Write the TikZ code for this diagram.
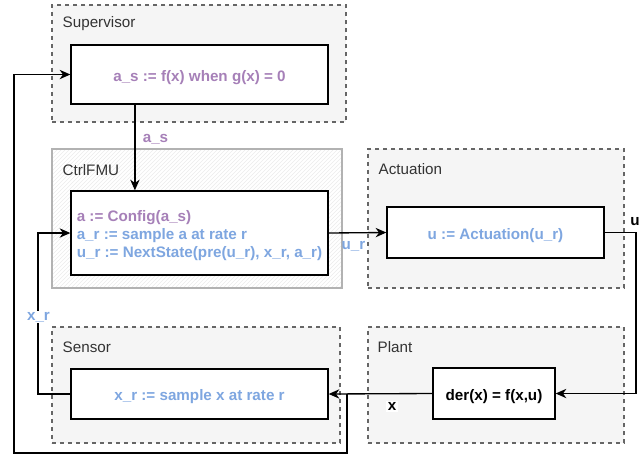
\documentclass[tikz,border=0pt]{standalone}
\usepackage{fontspec}
\setmainfont{Liberation Sans}
\usetikzlibrary{arrows.meta}
\usetikzlibrary{patterns}
\usetikzlibrary{calc}

\definecolor{asPurple}{HTML}{A680B8}
\definecolor{arBlue}{HTML}{7EA6E0}
\definecolor{groupFill}{HTML}{F5F5F5}
\definecolor{groupLine}{HTML}{666666}
\definecolor{titleText}{HTML}{333333}

\newcommand{\lineup}{\rule{0pt}{12.8pt}}

\begin{document}
\begin{tikzpicture}[x=0.75pt, y=-0.75pt,
  every node/.style={font=\fontsize{11.4}{13.5}\selectfont},
  group/.style={draw=groupLine, dashed, fill=groupFill, rectangle, line width=0.8pt, inner sep=0},
  title/.style={text=titleText, anchor=west, inner sep=0},
  block/.style={draw, rectangle, fill=white, line width=1pt, font=\fontsize{11.4}{13.5}\selectfont\bfseries},
  lbl/.style={inner sep=1pt, font=\fontsize{11.4}{13.5}\selectfont\bfseries},
  conn/.style={line width=1pt, -{Stealth[length=8pt, width=7pt, inset=2.5pt]}}]
\useasboundingbox (0,0) rectangle (644,455);

% groups
\node[group, minimum width=220.5pt, minimum height=87.75pt] (Supervisor) at (199,63.5) {};
\node[draw=black!30, line width=1pt, pattern=north east lines, pattern color=black!8, minimum width=217.5pt, minimum height=104.25pt] (CtrlFMU) at (197,218.5) {};
\node[group, minimum width=192pt, minimum height=104.25pt] (Actuation) at (496,218.5) {};
\node[group, minimum width=216pt, minimum height=87pt] (Sensor) at (196,385) {};
\node[group, minimum width=192pt, minimum height=87pt] (Plant) at (496,385) {};

\node[title] (SupTitle) at ([shift={(11,19.5)}]Supervisor.north west) {Supervisor};
\node[title] (CtrlTitle) at ([shift={(11,21.5)}]CtrlFMU.north west) {CtrlFMU};
\node[title] (ActTitle) at ([shift={(11,20.5)}]Actuation.north west) {Actuation};
\node[title] (SensorTitle) at ([shift={(11,20.5)}]Sensor.north west) {Sensor};
\node[title] (PlantTitle) at ([shift={(10,20.5)}]Plant.north west) {Plant};

% blocks
\node[block, minimum width=192.75pt, minimum height=44.25pt, text=asPurple] (SupBox) at (199.5,74.5) {\lineup a\_s := f(x) when g(x) = 0};
\node[block, minimum width=192.75pt, minimum height=63pt, align=left] (CtrlBox) at (199.5,233) {\lineup\textcolor{asPurple}{a := Config(a\_s)}\\ \textcolor{arBlue}{a\_r := sample a at rate r}\\ \textcolor{arBlue}{u\_r := NextState(pre(u\_r), x\_r, a\_r)}};
\node[block, minimum width=162.75pt, minimum height=38.25pt, text=arBlue] (ActBox) at (495.5,232.5) {\lineup u := Actuation(u\_r)};
\node[block, minimum width=91.5pt, minimum height=38.25pt] (PlantBox) at (494,393.5) {\lineup der(x) = f(x,u)};
\node[block, minimum width=192.75pt, minimum height=37.5pt, text=arBlue] (SensorBox) at (199.5,394) {\lineup x\_r := sample x at rate r};

% connectors
\coordinate (AsOut) at ($(SupBox.south west)!0.25!(SupBox.south east)$);
\draw[conn] (AsOut) -- (AsOut |- CtrlBox.north);
\draw[conn] (CtrlBox.east) -- (ActBox.west);
\coordinate (UTurn) at (636,232.5);
\draw[conn] (ActBox.east) -- (UTurn) |- (PlantBox.east);
\draw[conn] (PlantBox.west) -- (SensorBox.east);
\coordinate (XSplit) at (347,0 |- SensorBox.east);
\coordinate (XBottom) at (347,453);
\coordinate (XLeft) at (14,453);
\draw[conn] (XSplit) -- (XBottom) -- (XLeft) |- (SupBox.west);
\coordinate (XrTurn) at (38,0 |- SensorBox.west);
\draw[conn] (SensorBox.west) -- (XrTurn) |- (CtrlBox.west);

% labels
\node[lbl, text=asPurple] (AsLabel) at (155.5,139.5) {a\_s};
\node[lbl, text=arBlue] (UrLabel) at (353.5,246) {u\_r};
\node[lbl] (ULabel) at (635,221.5) {u};
\node[lbl, text=arBlue, fill=white] (XrLabel) at (38.5,317) {x\_r};
\node[lbl, fill=white] (XLabel) at (392,406.5) {x};
\end{tikzpicture}
\end{document}
